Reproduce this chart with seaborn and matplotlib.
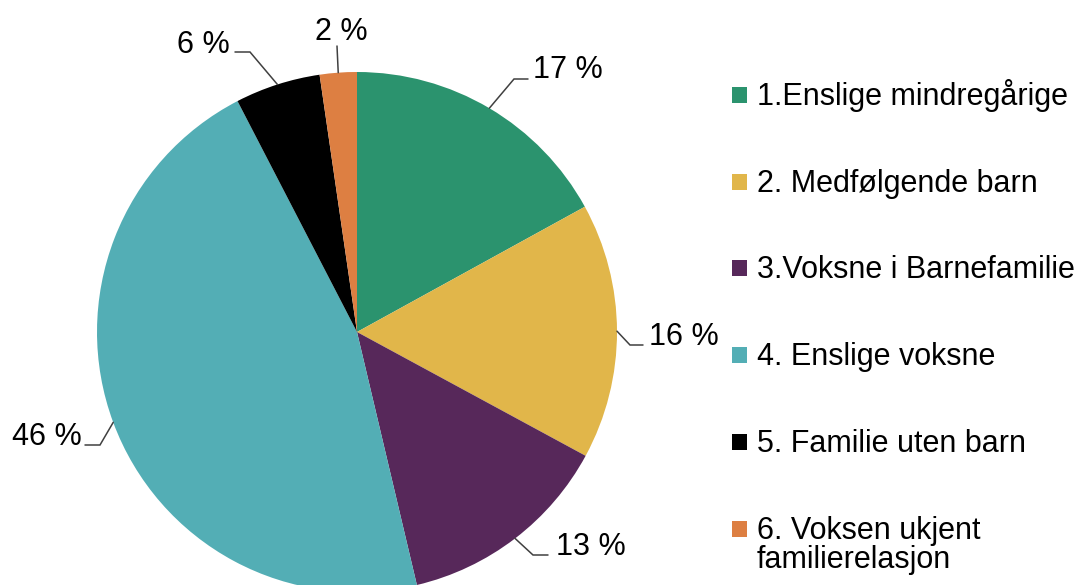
import matplotlib
matplotlib.use("Agg")
import matplotlib.pyplot as plt
import seaborn as sns
import numpy as np
from matplotlib.patches import Rectangle

sns.set_theme(style="white")
plt.rcParams['font.family'] = ['Liberation Sans', 'DejaVu Sans']

# ---- data ----
categories = ["1.Enslige mindregårige", "2. Medfølgende barn", "3.Voksne i Barnefamilie",
              "4. Enslige voksne", "5. Familie uten barn", "6. Voksen ukjent\nfamilierelasjon"]
shares = [17.0, 15.9, 13.4, 46.1, 5.3, 2.3]
pct_labels = ["17 %", "16 %", "13 %", "46 %", "6 %", "2 %"]
colors = ["#2B936E", "#E1B64A", "#57285A", "#53AEB5", "#000000", "#DD7F42"]

W, H = 1083, 585
fig = plt.figure(figsize=(W / 100, H / 100), dpi=100)

# pie geometry (pixels)
cx, cy, R = 357, 332, 260
ax = fig.add_axes([(cx - R) / W, 1 - (cy + R) / H, 2 * R / W, 2 * R / H])
wedges, _ = ax.pie(shares, colors=colors, startangle=90, counterclock=False,
                   radius=1, wedgeprops=dict(linewidth=0))
ax.set_xlim(-1, 1)
ax.set_ylim(-1, 1)
ax.set_aspect("equal")
ax.axis("off")
for w in wedges:
    w.set_clip_on(False)

def px2fig(x, y):
    return x / W, 1 - y / H

# label layout: elbow point, line end, text (left, baseline) in pixels
elbows = [(514, 79), (630, 345), (533, 555), (100, 445), (250, 52), (337, 46)]
ends = [(528, 79), (643, 345), (548, 555), (85, 445), (235, 52), (337, 46)]
text_pos = [(533, 78), (649, 345), (556, 555), (12, 445), (177, 53), (315, 40)]

for w, lab, el, en, tp in zip(wedges, pct_labels, elbows, ends, text_pos):
    mid = np.deg2rad((w.theta1 + w.theta2) / 2)
    sx, sy = cx + R * np.cos(mid), cy - R * np.sin(mid)
    xs = [sx, el[0], en[0]]
    ys = [sy, el[1], en[1]]
    fx, fy = zip(*[px2fig(a, b) for a, b in zip(xs, ys)])
    fig.add_artist(plt.Line2D(fx, fy, transform=fig.transFigure, color="#404040",
                              linewidth=1.1, solid_joinstyle="miter"))
    tx, ty = px2fig(*tp)
    fig.text(tx, ty, lab, fontsize=22, color="black", ha="left", va="baseline")

# legend (manual, Excel-like)
baselines = [105, 192, 278, 365, 452, 539]
for cat, col, b in zip(categories, colors, baselines):
    mx, my = px2fig(732, b - 2)
    fig.add_artist(Rectangle((mx, my), 15 / W, 16 / H, transform=fig.transFigure,
                             facecolor=col, edgecolor="none"))
    for i, line in enumerate(cat.split("\n")):
        tx, ty = px2fig(757, b + i * 29)
        fig.text(tx, ty, line, fontsize=22, color="black", ha="left", va="baseline")

fig.savefig("out.png", dpi=100, facecolor="white")
